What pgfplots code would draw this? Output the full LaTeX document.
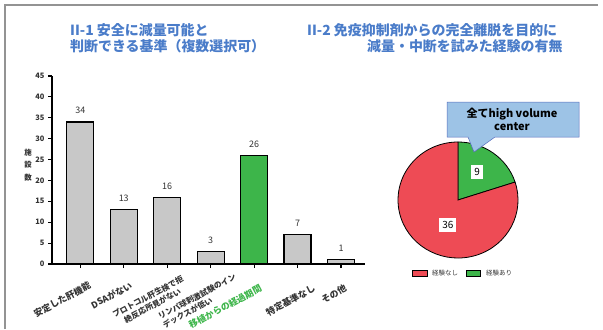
\documentclass[border=0pt]{standalone}
\usepackage{pgfplots}
\pgfplotsset{compat=1.18}
\usepackage{fontspec}
\setmainfont{Noto Sans CJK JP}
\definecolor{titleblue}{HTML}{4A7CC9}
\definecolor{bargray}{HTML}{C8C8C8}
\definecolor{bargreen}{HTML}{3DB54A}
\definecolor{piered}{HTML}{EE4B55}
\definecolor{piegreen}{HTML}{3DB54A}
\definecolor{callout}{HTML}{9DC3E6}
\definecolor{txtgray}{HTML}{333333}
\def\nYes{9}
\def\nNo{36}
\pgfmathsetmacro\aMid{90-360*\nYes/(\nYes+\nNo)}
\tikzset{xlab/.style={rotate=28, anchor=north east, font=\bfseries\fontsize{9}{10.5}\selectfont, text=txtgray, inner sep=0.5bp}}
\begin{document}
\begin{tikzpicture}[x=1bp,y=1bp]
\path[use as bounding box] (0,0) rectangle (603,329);
\draw[gray!85, line width=1.3bp] (5,0) -- (5,324) -- (598,324);
% titles
\node[anchor=west, font=\bfseries\fontsize{14}{14}\selectfont, text=titleblue, inner sep=0] at (70,299) {II-1 安全に減量可能と};
\node[anchor=west, font=\bfseries\fontsize{14}{14}\selectfont, text=titleblue, inner sep=0] at (70,283) {判断できる基準（複数選択可）};
\node[anchor=west, font=\bfseries\fontsize{14}{14}\selectfont, text=titleblue, inner sep=0] at (307,299) {II-2 免疫抑制剤からの完全離脱を目的に};
\node[anchor=west, font=\bfseries\fontsize{14}{14}\selectfont, text=titleblue, inner sep=0] at (367,283) {減量・中断を試みた経験の有無};
% y label
\node[align=center, font=\bfseries\fontsize{7.5}{12.5}\selectfont, text=txtgray] at (28,164) {施\\設\\数};
\begin{axis}[
  at={(52bp,65bp)}, anchor=south west, scale only axis,
  width=313bp, height=188bp,
  xmin=-0.65, xmax=6.55, ymin=0, ymax=45,
  axis x line*=bottom, axis y line*=left,
  axis line style={-, line width=1.6bp, black},
  ytick={0,5,...,45}, xtick={0,...,6}, xticklabels={},
  tick align=outside, major tick length=4bp,
  every tick/.style={black, line width=1.2bp},
  /pgf/number format/assume math mode=true,
  yticklabel style={font=\bfseries\fontsize{7.5}{7.5}\selectfont, text=txtgray},
  ybar, bar width=27bp, bar shift=0pt,
  nodes near coords,
  nodes near coords style={font=\fontsize{9}{9}\selectfont, text=txtgray, yshift=4bp},
  clip=false,
]
\addplot[fill=bargray, draw=black, line width=1.3bp] coordinates {(0,34) (1,13) (2,16) (3,3) (5,7) (6,1)};
\addplot[fill=bargreen, draw=black, line width=1.3bp] coordinates {(4,26)};
\node[xlab] at ([xshift=8bp, yshift=-16bp]axis cs:0,0) {安定した肝機能};
\node[xlab] at ([xshift=6bp, yshift=-16bp]axis cs:1,0) {DSAがない};
\node[xlab, align=center, font=\bfseries\fontsize{7.9}{10}\selectfont] at ([xshift=14bp, yshift=-10bp]axis cs:2,0) {プロトコル肝生検で拒\\絶反応所見がない};
\node[xlab, align=left, font=\bfseries\fontsize{7.9}{10}\selectfont] at ([xshift=23bp, yshift=-8bp]axis cs:3,0) {リンパ球刺激試験のイン\\デックスが低い};
\node[xlab, text=bargreen] at ([xshift=5bp, yshift=-19bp]axis cs:4,0) {移植からの経過期間};
\node[xlab] at ([xshift=15bp, yshift=-19bp]axis cs:5,0) {特定基準なし};
\node[xlab] at ([xshift=3bp, yshift=-19bp]axis cs:6,0) {その他};
\end{axis}
% pie
\begin{axis}[
  at={(458bp,129bp)}, anchor=center, scale only axis,
  width=120bp, height=116bp,
  xmin=-1, xmax=1, ymin=-1, ymax=1, hide axis, clip=false,
]
\filldraw[fill=piegreen, draw=black, line width=0.8bp] (axis cs:0,0) -- (axis cs:0,1) arc[start angle=90, end angle=\aMid, x radius=60bp, y radius=58bp] -- cycle;
\filldraw[fill=piered, draw=black, line width=0.8bp] (axis cs:0,0) -- (axis cs:{cos(\aMid)},{sin(\aMid)}) arc[start angle=\aMid, end angle=-270, x radius=60bp, y radius=58bp] -- cycle;
\node[fill=white, font=\fontsize{10}{10}\selectfont, inner sep=3bp] at (axis cs:0.32,0.48) {\nYes};
\node[fill=white, font=\fontsize{10}{10}\selectfont, inner sep=3bp] at (axis cs:-0.17,-0.43) {\nNo};
\end{axis}
% callout
\filldraw[fill=callout, draw=callout!70!blue!80!black, line width=0.5bp] (447,227) -- (579,227) -- (579,192) -- (495,192) -- (474,177) -- (468,192) -- (447,192) -- cycle;
\node[font=\bfseries\fontsize{11}{13}\selectfont, align=center] at (512,210) {全てhigh volume\\center};
% legend
\filldraw[fill=piered, draw=black, line width=0.6bp] (412,53) rectangle (427,59);
\node[anchor=west, font=\fontsize{6.5}{6.5}\selectfont, text=txtgray, inner sep=0] at (432,56) {経験なし};
\filldraw[fill=piegreen, draw=black, line width=0.6bp] (466,53) rectangle (480,59);
\node[anchor=west, font=\fontsize{6.5}{6.5}\selectfont, text=txtgray, inner sep=0] at (486,56) {経験あり};
\end{tikzpicture}
\end{document}
